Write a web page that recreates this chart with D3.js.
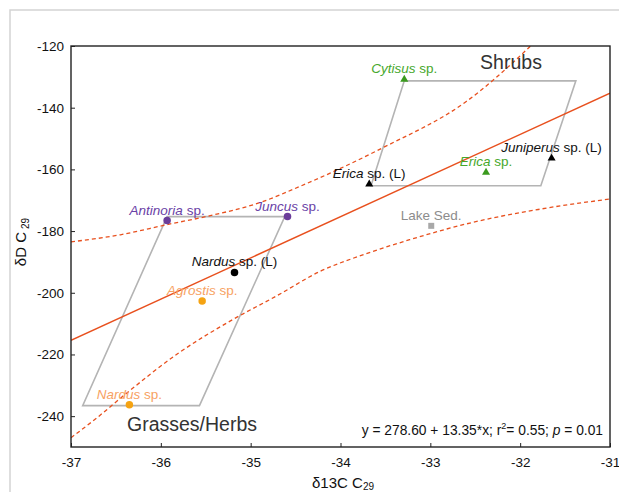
<!DOCTYPE html>
<html>
<head>
<meta charset="utf-8">
<script src="https://cdn.jsdelivr.net/npm/d3@7"></script>
<style>
  body { margin: 0; background: #fff; }
  svg { font-family: "Liberation Sans", Arial, sans-serif; display: block; }
</style>
</head>
<body>
<svg id="chart"></svg>
<script>
// values
const genus = ["Antinoria", "Juncus", "Nardus", "Agrostis", "Nardus", "Cytisus", "Erica", "Erica", "Juniperus", ""];
const suffix = [" sp.", " sp.", " sp. (L)", " sp.", " sp.", " sp.", " sp. (L)", " sp.", " sp. (L)", "Lake Sed."];
const d13C = [-35.93, -34.59, -35.18, -35.54, -36.35, -33.29, -33.68, -32.38, -31.65, -32.99];
const dD = [-176.6, -175.3, -193.4, -202.7, -236.3, -130.8, -164.8, -161.0, -156.4, -178.3];
const group = ["grassP", "grassP", "grassL", "grassO", "grassO", "shrubG", "shrubL", "shrubG", "shrubL", "lake"];

const grassBox = [[-36.87, -236.6], [-35.57, -236.6], [-34.62, -175.3], [-35.93, -175.3]];
const shrubBox = [[-33.66, -165.3], [-31.77, -165.3], [-31.38, -131.3], [-33.29, -131.3]];

const regLine = [[-37, -215.4], [-31, -135.3]];
const upperBand = [[-37, -183.5], [-36.45, -181.2], [-35.93, -177.9], [-35.45, -175.0], [-34.9, -170.8],
  [-34.45, -165.5], [-33.53, -153.0], [-32.6, -138.0], [-31.91, -120.7], [-31.8, -117.6]];
const lowerBand = [[-37, -247.0], [-36.71, -240.5], [-36.4, -233.0], [-35.8, -219.5], [-35.2, -208.7],
  [-34.71, -201.0], [-34.23, -193.1], [-33.73, -187.5], [-33.23, -182.8], [-32.56, -177.4], [-31.8, -173.0], [-31, -169.6]];

const xTicks = [-37, -36, -35, -34, -33, -32, -31];
const yTicks = [-240, -220, -200, -180, -160, -140, -120];

const width = 619, height = 492;
const margin = { top: 46, right: 9, bottom: 45, left: 71 };

const fill = { grassP: "#6a3d9a", grassL: "#000", grassO: "#f5a312", shrubG: "#3a9a1e", shrubL: "#000", lake: "#a8a8a8" };
const textCol = { grassP: "#6a42a6", grassL: "#111", grassO: "#f7a263", shrubG: "#46a82c", shrubL: "#111", lake: "#8c8c8c" };

const svg = d3.select("#chart").attr("width", width).attr("height", height);

// light outer frame
svg.append("path").attr("d", `M10,${height} V10 H${width}`)
  .attr("fill", "none").attr("stroke", "#d4d4d4").attr("stroke-width", 1.5);

const x = d3.scaleLinear().domain([-37, -31]).range([margin.left, width - margin.right]);
const y = d3.scaleLinear().domain([-250, -120]).range([height - margin.bottom, margin.top]);

svg.append("clipPath").attr("id", "clip").append("rect")
  .attr("x", x(-37)).attr("y", y(-120)).attr("width", x(-31) - x(-37)).attr("height", y(-250) - y(-120));

const plot = svg.append("g").attr("clip-path", "url(#clip)");

const poly = d3.line().x(d => x(d[0])).y(d => y(d[1]));
[grassBox, shrubBox].forEach(b => {
  plot.append("path").attr("d", poly(b) + "Z").attr("fill", "none")
    .attr("stroke", "#b4b4b4").attr("stroke-width", 1.6);
});

const curve = d3.line().x(d => x(d[0])).y(d => y(d[1])).curve(d3.curveMonotoneX);
[upperBand, lowerBand].forEach(b => {
  plot.append("path").attr("d", curve(b)).attr("fill", "none")
    .attr("stroke", "#e8501e").attr("stroke-width", 1.3).attr("stroke-dasharray", "4,3");
});
plot.append("path").attr("d", poly(regLine)).attr("fill", "none")
  .attr("stroke", "#e8501e").attr("stroke-width", 1.5);

// axes with inside ticks, plain hyphen minus like the original
svg.append("g").attr("transform", `translate(0,${y(-250)})`)
  .call(d3.axisBottom(x).tickValues(xTicks).tickSize(-4).tickPadding(10).tickFormat(d => String(d)))
  .call(g => g.select(".domain").remove())
  .call(g => g.selectAll("text").attr("font-size", "13.5px").attr("fill", "#111").attr("font-family", null))
  .call(g => g.selectAll("line").attr("stroke", "#222"));
svg.append("g").attr("transform", `translate(${x(-37)},0)`)
  .call(d3.axisLeft(y).tickValues(yTicks).tickSize(-4).tickPadding(7).tickFormat(d => String(d)))
  .call(g => g.select(".domain").remove())
  .call(g => g.selectAll("text").attr("font-size", "13.5px").attr("fill", "#111").attr("font-family", null))
  .call(g => g.selectAll("line").attr("stroke", "#222"));

svg.append("rect").attr("x", x(-37)).attr("y", y(-120))
  .attr("width", x(-31) - x(-37)).attr("height", y(-250) - y(-120))
  .attr("fill", "none").attr("stroke", "#222").attr("stroke-width", 1.4);

// points
const pts = d13C.map((v, i) => ({ x: v, y: dD[i], g: group[i], genus: genus[i], rest: suffix[i] }));
const shape = g => g === "lake" ? d3.symbolSquare : (g.startsWith("shrub") ? d3.symbolTriangle : d3.symbolCircle);
const size = g => g === "lake" ? 36 : (g.startsWith("shrub") ? 28 : 44);

svg.selectAll(".pt").data(pts).enter().append("path").attr("class", "pt")
  .attr("transform", d => `translate(${x(d.x)},${y(d.y)})`)
  .attr("d", d => d3.symbol(shape(d.g), size(d.g))())
  .attr("fill", d => fill[d.g]);

const lab = svg.selectAll(".lab").data(pts).enter().append("text").attr("class", "lab")
  .attr("x", d => x(d.x)).attr("y", d => y(d.y) - 6)
  .attr("text-anchor", "middle").attr("font-size", "13.5px")
  .attr("fill", d => textCol[d.g]);
lab.append("tspan").attr("font-style", "italic").text(d => d.genus);
lab.append("tspan").text(d => d.rest);

// group names
svg.append("text").attr("x", 511).attr("y", 69).attr("text-anchor", "middle")
  .attr("font-size", "19.5px").attr("fill", "#333").text("Shrubs");
svg.append("text").attr("x", 192).attr("y", 431).attr("text-anchor", "middle")
  .attr("font-size", "19.5px").attr("fill", "#333").text("Grasses/Herbs");

// regression equation
const eq = svg.append("text").attr("x", 603).attr("y", 435).attr("text-anchor", "end")
  .attr("font-size", "13.8px").attr("fill", "#111");
eq.append("tspan").text("y = 278.60 + 13.35*x; r");
eq.append("tspan").attr("font-size", "9px").attr("dy", -6).text("2");
eq.append("tspan").attr("dy", 6).text("= 0.55; ");
eq.append("tspan").attr("font-style", "italic").text("p");
eq.append("tspan").text(" = 0.01");

// axis titles
const xt = svg.append("text").attr("x", 343).attr("y", 488).attr("text-anchor", "middle")
  .attr("font-size", "15px").attr("fill", "#111");
xt.append("tspan").text("δ13C C");
xt.append("tspan").attr("font-size", "10px").attr("dy", 2).text("29");

const yt = svg.append("text").attr("transform", "translate(26,242) rotate(-90)")
  .attr("text-anchor", "middle").attr("font-size", "15px").attr("fill", "#111");
yt.append("tspan").text("δD C");
yt.append("tspan").attr("font-size", "10px").attr("dx", 3).attr("dy", 3).text("29");
</script>
</body>
</html>
